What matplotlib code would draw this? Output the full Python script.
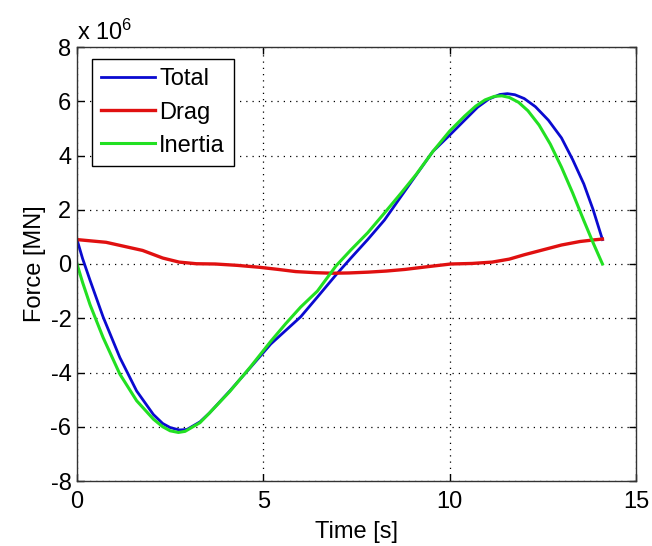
import matplotlib
matplotlib.use("Agg")
import matplotlib.pyplot as plt

# Force values, in units of 1e6 N
t_total = [0, 0.15, 0.35, 0.7, 1.15, 1.6, 2.05, 2.3, 2.5, 2.75, 2.95, 3.3, 3.55, 4.1,
           4.65, 5.2, 5.6, 6.0, 6.45, 6.95, 7.35, 7.8, 8.25, 8.7, 9.1, 9.55, 10.0, 10.4,
           10.75, 11.05, 11.35, 11.55, 11.75, 12.0, 12.3, 12.65, 13.0, 13.3, 13.6, 13.85,
           14.1]
f_total = [0.9, 0.2, -0.6, -1.95, -3.45, -4.68, -5.55, -5.88, -6.03, -6.12, -6.1, -5.82,
           -5.5, -4.68, -3.82, -2.95, -2.45, -1.95, -1.22, -0.4, 0.22, 0.9, 1.62, 2.5,
           3.28, 4.15, 4.75, 5.3, 5.78, 6.08, 6.25, 6.28, 6.24, 6.1, 5.8, 5.3, 4.65, 3.85,
           2.95, 2.0, 0.9]

t_drag = [0, 0.78, 1.76, 2.3, 2.74, 3.2, 3.71, 4.3, 4.89, 5.4, 5.87, 6.4, 6.84, 7.3, 7.82,
          8.3, 8.8, 9.4, 10.03, 10.6, 11.14, 11.6, 12.0, 12.5, 13.0, 13.5, 13.88, 14.1]
f_drag = [0.9, 0.8, 0.5, 0.22, 0.07, 0.01, 0.0, -0.05, -0.12, -0.2, -0.28, -0.32, -0.34,
          -0.33, -0.3, -0.26, -0.2, -0.1, 0.0, 0.02, 0.07, 0.18, 0.34, 0.52, 0.7, 0.83,
          0.89, 0.92]

t_inertia = [0, 0.15, 0.35, 0.7, 1.15, 1.6, 2.05, 2.3, 2.5, 2.72, 2.9, 3.3, 3.55, 4.1,
             4.65, 5.2, 5.6, 6.0, 6.45, 6.95, 7.35, 7.8, 8.25, 8.7, 9.1, 9.55, 10.0, 10.4,
             10.7, 10.95, 11.2, 11.4, 11.6, 11.85, 12.1, 12.4, 12.7, 13.0, 13.3, 13.6,
             13.85, 14.1]
f_inertia = [0, -0.68, -1.5, -2.71, -4.06, -5.04, -5.72, -6.0, -6.15, -6.21, -6.17, -5.85,
             -5.5, -4.7, -3.8, -2.85, -2.2, -1.59, -1.0, -0.07, 0.52, 1.15, 1.88, 2.62,
             3.3, 4.15, 4.9, 5.45, 5.82, 6.05, 6.18, 6.2, 6.14, 5.96, 5.65, 5.12, 4.42,
             3.57, 2.62, 1.6, 0.78, 0]

x_ticks = [0, 5, 10, 15]
y_ticks = [-8, -6, -4, -2, 0, 2, 4, 6, 8]

plt.rcParams['font.family'] = ['Liberation Sans', 'DejaVu Sans']
plt.rcParams['mathtext.default'] = 'regular'
plt.rcParams['axes.unicode_minus'] = False
plt.rcParams['font.size'] = 17

fig = plt.figure(figsize=(6.52, 5.46), dpi=100)
ax = fig.add_axes([77 / 652, 65 / 546, 559 / 652, 434 / 546])

ax.plot(t_total, f_total, color='#0a0ad0', lw=2, label='Total')
ax.plot(t_drag, f_drag, color='#e01010', lw=2.4, label='Drag')
ax.plot(t_inertia, f_inertia, color='#22e022', lw=2.2, label='Inertia')

ax.set_xlim(0, 15)
ax.set_ylim(-8, 8)
ax.set_xticks(x_ticks)
ax.set_yticks(y_ticks)
ax.grid(True, color='black', linestyle=(0, (1, 4)), linewidth=0.9)
ax.tick_params(direction='in', top=True, right=True, length=5, width=1, labelsize=17)
ax.tick_params(axis='x', pad=7)
ax.tick_params(axis='y', pad=4)
for s in ax.spines.values():
    s.set_linewidth(1)
    s.set_color('#333333')

ax.set_xlabel('Time [s]', fontsize=17, labelpad=6)
ax.set_ylabel('Force [MN]', fontsize=17, labelpad=3)
ax.text(0.0, 1.005, r'x 10$^{6}$', transform=ax.transAxes, fontsize=17,
        ha='left', va='bottom')

leg = ax.legend(loc='upper left', bbox_to_anchor=(15 / 559, 1 - 12 / 434),
                borderaxespad=0, fancybox=False, edgecolor='black', framealpha=1,
                handlelength=2.25, handletextpad=0.2, labelspacing=0.47,
                borderpad=0.4, fontsize=17)
leg.get_frame().set_linewidth(1)

fig.savefig('out.png', dpi=100)
